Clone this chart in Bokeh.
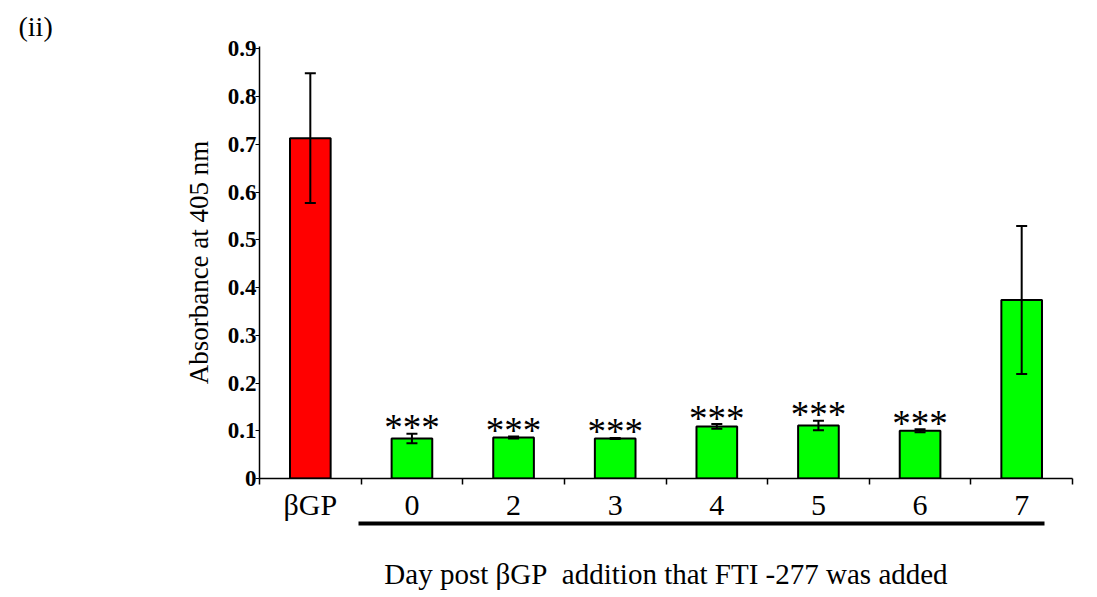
from bokeh.plotting import figure
from bokeh.models import (ColumnDataSource, Range1d, LinearAxis,
                          FixedTicker, Whisker, TeeHead)
from bokeh.core.properties import value
from bokeh.embed import file_html
from bokeh.resources import INLINE

# ---- data ----
categories = ["βGP", "0", "2", "3", "4", "5", "6", "7"]
absorbance = [0.713, 0.084, 0.086, 0.084, 0.109, 0.111, 0.100, 0.374]
errors = [0.136, 0.010, 0.002, 0.001, 0.005, 0.010, 0.003, 0.155]
significance = ["", "***", "***", "***", "***", "***", "***", ""]
bar_colors = ["#FF0000", "#00FF00", "#00FF00", "#00FF00", "#00FF00", "#00FF00", "#00FF00", "#00FF00"]
y_ticks = [0, 0.1, 0.2, 0.3, 0.4, 0.5, 0.6, 0.7, 0.8, 0.9]
y_title = "Absorbance at 405 nm"
x_title = "Day post βGP\u00a0 addition that FTI -277 was added"
panel_label = "(ii)"

FONT = "Liberation Serif"
n = len(categories)
centers = [i + 0.5 for i in range(n)]      # slot centres on the category axis
boundaries = [float(i) for i in range(n + 1)]  # slot edges (tick marks)

src = ColumnDataSource(dict(
    x=centers,
    val=absorbance,
    upper=[v + e for v, e in zip(absorbance, errors)],
    lower=[v - e for v, e in zip(absorbance, errors)],
    sig=significance,
    color=bar_colors,
))

p = figure(width=1097, height=597, x_range=Range1d(0, n),
           y_range=Range1d(0, 0.905), output_backend="svg", toolbar_location=None,
           x_axis_location=None, min_border_left=259, min_border_right=25,
           min_border_top=46, min_border_bottom=119)

p.xgrid.visible = False
p.ygrid.visible = False
p.outline_line_color = None
p.background_fill_color = "white"

# title "(ii)"
p.title.text = panel_label
p.title.text_font = FONT
p.title.text_font_size = "28px"
p.title.text_font_style = "normal"
p.title.text_color = "black"
p.title.align = "left"
p.title.offset = -241

# y axis
ya = p.yaxis[0]
ya.ticker = FixedTicker(ticks=y_ticks)
ya.minor_tick_line_color = None
ya.major_tick_out = 4
ya.major_tick_in = 0
ya.major_label_standoff = -1
ya.major_label_text_font = FONT
ya.major_label_text_font_size = "23px"
ya.major_label_text_font_style = "bold"
ya.major_label_text_color = "black"
ya.axis_line_width = 1.5
ya.axis_label = y_title
ya.axis_label_text_font = FONT
ya.axis_label_text_font_size = "27px"
ya.axis_label_text_font_style = "normal"
ya.axis_label_text_color = "black"
ya.axis_label_standoff = 11

# x axis: line, boundary ticks (minor), category labels at centres
ax2 = LinearAxis(ticker=FixedTicker(ticks=centers, minor_ticks=boundaries))
ax2.major_label_overrides = {c: lab for c, lab in zip(centers, categories)}
ax2.axis_line_width = 1.5
ax2.major_tick_line_color = None
ax2.major_tick_out = 0
ax2.major_tick_in = 0
ax2.minor_tick_line_color = "black"
ax2.minor_tick_line_width = 1.5
ax2.minor_tick_out = 6
ax2.minor_tick_in = 0
ax2.major_label_standoff = 3
ax2.major_label_text_font = FONT
ax2.major_label_text_font_size = "30px"
ax2.major_label_text_color = "black"
p.add_layout(ax2, "below")

# bracket line + title
ax3 = LinearAxis(ticker=FixedTicker(ticks=[]), bounds=(0.97, 7.72))
ax3.axis_line_width = 4
ax3.major_tick_line_color = None
ax3.minor_tick_line_color = None
ax3.axis_label = x_title
ax3.axis_label_text_font = FONT
ax3.axis_label_text_font_size = "29px"
ax3.axis_label_text_font_style = "normal"
ax3.axis_label_text_color = "black"
ax3.axis_label_standoff = 34
p.add_layout(ax3, "below")

# bars
p.vbar(x="x", top="val", width=0.4, source=src, fill_color="color",
       line_color="black", line_width=2)

# error bars
w = Whisker(base="x", upper="upper", lower="lower", source=src, line_width=2, line_color="black",
            upper_head=TeeHead(size=11, line_width=2, line_color="black"),
            lower_head=TeeHead(size=11, line_width=2, line_color="black"),
            level="overlay")
p.add_layout(w)

# significance stars
p.text(x="x", y="upper", text="sig", source=src, text_align="center",
       text_baseline="alphabetic", y_offset=-6, text_font=value(FONT),
       text_font_size="37px", text_color="black")

open("out.html", "w").write(file_html(p, INLINE))
